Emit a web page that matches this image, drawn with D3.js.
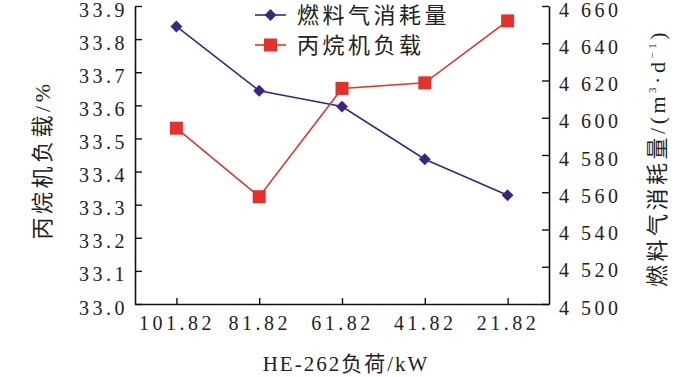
<!DOCTYPE html>
<html>
<head>
<meta charset="utf-8">
<title>HE-262负荷</title>
<script src="https://d3js.org/d3.v7.min.js"></script>
<style>
  body { margin: 0; background: #fff; }
  svg text { fill: #222; }
</style>
</head>
<body>
<div id="chart"></div>
<script>
// categories (x axis, HE-262 load in kW)
const loads = ["101.82", "81.82", "61.82", "41.82", "21.82"];
// fuel gas consumption, m3/d (right axis)
const fuelGas = [4649, 4614.5, 4606, 4577.7, 4558.4];
// propane compressor load, % (left axis)
const propaneLoad = [33.531, 33.324, 33.651, 33.668, 33.855];
// tick values
const leftTicks = [33.0, 33.1, 33.2, 33.3, 33.4, 33.5, 33.6, 33.7, 33.8, 33.9];
const rightTicks = [4500, 4520, 4540, 4560, 4580, 4600, 4620, 4640, 4660];
const seriesNames = ["燃料气消耗量", "丙烷机负载"];

const W = 700, H = 377;
const plot = {left: 135, right: 549, top: 6, bottom: 304};
const purple = "#3b2580", red = "#e5312b";
const numFont = "'Liberation Serif', 'DejaVu Serif', serif";
const cjkFont = "'Liberation Serif', 'Noto Sans CJK SC', sans-serif";

const svg = d3.select("#chart").append("svg")
    .attr("width", W).attr("height", H);

const x = d3.scalePoint().domain(loads).range([plot.left, plot.right]).padding(0.5);
const yL = d3.scaleLinear().domain([33.0, 33.9]).range([plot.bottom, plot.top]);
const yR = d3.scaleLinear().domain([4500, 4660]).range([plot.bottom, plot.top]);

function styleAxis(g) {
  g.select(".domain").attr("stroke", "#111").attr("stroke-width", 1.6);
  g.selectAll(".tick line").attr("stroke", "#111").attr("stroke-width", 1.4);
  g.selectAll(".tick text")
    .attr("font-family", numFont).attr("font-size", 20)
    .attr("letter-spacing", "3.5px").attr("fill", "#222");
}

// left axis
svg.append("g")
  .attr("transform", "translate(" + plot.left + ",0)")
  .call(d3.axisLeft(yL).tickValues(leftTicks).tickFormat(d3.format(".1f"))
        .tickSizeInner(-7).tickSizeOuter(0).tickPadding(7))
  .call(styleAxis)
  .selectAll(".tick text").attr("dy", "0.5em");

// right axis
svg.append("g")
  .attr("transform", "translate(" + plot.right + ",0)")
  .call(d3.axisRight(yR).tickValues(rightTicks)
        .tickFormat(d => d3.format("d")(d).replace(/^(\d)(\d{3})$/, "$1 $2"))
        .tickSizeInner(-7).tickSizeOuter(0).tickPadding(10))
  .call(styleAxis)
  .selectAll(".tick text").attr("dy", "0.5em");

// bottom axis
svg.append("g")
  .attr("transform", "translate(0," + plot.bottom + ")")
  .call(d3.axisBottom(x).tickSizeInner(-6).tickSizeOuter(0).tickPadding(12))
  .call(styleAxis);

// axis titles
svg.append("text")
  .attr("x", 346).attr("y", 371)
  .attr("text-anchor", "middle")
  .attr("font-family", cjkFont).attr("font-size", 21)
  .attr("letter-spacing", "2px")
  .text("HE-262负荷/kW");

svg.append("text")
  .attr("transform", "translate(50,160) rotate(-90)")
  .attr("text-anchor", "middle")
  .attr("font-family", cjkFont).attr("font-size", 22)
  .attr("letter-spacing", "3.5px")
  .text("丙烷机负载/%");

const rt = svg.append("text")
  .attr("transform", "translate(665,158) rotate(-90)")
  .attr("text-anchor", "middle")
  .attr("font-family", cjkFont).attr("font-size", 22)
  .attr("letter-spacing", "3.5px");
rt.append("tspan").text("燃料气消耗量/(m");
rt.append("tspan").attr("font-size", 11).attr("dy", -9).text("3");
rt.append("tspan").attr("dy", 9).text("·d");
rt.append("tspan").attr("font-size", 11).attr("dy", -9).text("−1");
rt.append("tspan").attr("dy", 9).text(")");

// lines
const lineR = d3.line().x((d, i) => x(loads[i])).y(d => yR(d));
const lineL = d3.line().x((d, i) => x(loads[i])).y(d => yL(d));

svg.append("path").datum(fuelGas)
  .attr("d", lineR).attr("fill", "none")
  .attr("stroke", purple).attr("stroke-width", 1.6);

svg.append("path").datum(propaneLoad)
  .attr("d", lineL).attr("fill", "none")
  .attr("stroke", red).attr("stroke-width", 1.6);

const diamond = d3.symbol().type(d3.symbolDiamond2).size(90);

svg.selectAll(".fuel").data(fuelGas).enter().append("path")
  .attr("class", "fuel")
  .attr("transform", (d, i) => "translate(" + x(loads[i]) + "," + yR(d) + ")")
  .attr("d", diamond).attr("fill", purple);

svg.selectAll(".load").data(propaneLoad).enter().append("rect")
  .attr("class", "load")
  .attr("x", (d, i) => x(loads[i]) - 6.5)
  .attr("y", d => yL(d) - 6.5)
  .attr("width", 13).attr("height", 13)
  .attr("fill", red);

// legend
const legend = svg.append("g");
seriesNames.forEach((name, i) => {
  const ly = 15 + i * 30;
  const col = i === 0 ? purple : red;
  legend.append("line")
    .attr("x1", 255).attr("x2", 286).attr("y1", ly).attr("y2", ly)
    .attr("stroke", col).attr("stroke-width", 1.6);
  if (i === 0) {
    legend.append("path")
      .attr("transform", "translate(270.5," + ly + ")")
      .attr("d", diamond).attr("fill", col);
  } else {
    legend.append("rect")
      .attr("x", 264).attr("y", ly - 6.5).attr("width", 13).attr("height", 13)
      .attr("fill", col);
  }
  legend.append("text")
    .attr("x", 297).attr("y", ly + 8)
    .attr("font-family", cjkFont).attr("font-size", 22)
    .attr("letter-spacing", "3.5px")
    .text(name);
});
</script>
</body>
</html>
